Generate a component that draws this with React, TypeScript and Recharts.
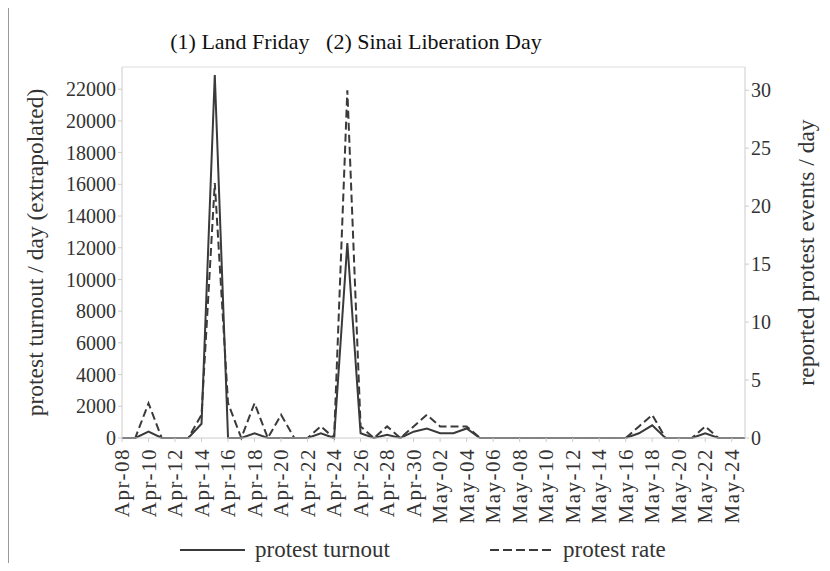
import React from "react";
import { ComposedChart, Line, XAxis, YAxis, Legend, ReferenceLine, Label } from "recharts";

const dates = [
  "Apr-08", "Apr-09", "Apr-10", "Apr-11", "Apr-12", "Apr-13", "Apr-14", "Apr-15", "Apr-16", "Apr-17",
  "Apr-18", "Apr-19", "Apr-20", "Apr-21", "Apr-22", "Apr-23", "Apr-24", "Apr-25", "Apr-26", "Apr-27",
  "Apr-28", "Apr-29", "Apr-30", "May-01", "May-02", "May-03", "May-04", "May-05", "May-06", "May-07",
  "May-08", "May-09", "May-10", "May-11", "May-12", "May-13", "May-14", "May-15", "May-16", "May-17",
  "May-18", "May-19", "May-20", "May-21", "May-22", "May-23", "May-24", "May-25",
];

// protest turnout / day (extrapolated)
const turnout = [
  0, 0, 400, 0, 0, 0, 900, 22900, 0, 0,
  300, 0, 0, 0, 0, 300, 0, 12300, 300, 0,
  200, 0, 400, 600, 300, 300, 600, 0, 0, 0,
  0, 0, 0, 0, 0, 0, 0, 0, 0, 300,
  800, 0, 0, 0, 300, 0, 0, 0,
];

// reported protest events / day
const rate = [
  0, 0, 3, 0, 0, 0, 2, 22, 3, 0,
  3, 0, 2, 0, 0, 1, 0, 30, 1, 0,
  1, 0, 1, 2, 1, 1, 1, 0, 0, 0,
  0, 0, 0, 0, 0, 0, 0, 0, 0, 1,
  2, 0, 0, 0, 1, 0, 0, 0,
];

const leftTicks = [0, 2000, 4000, 6000, 8000, 10000, 12000, 14000, 16000, 18000, 20000, 22000];
const rightTicks = [0, 5, 10, 15, 20, 25, 30];

const data = dates.map((d, i) => ({ date: d, turnout: turnout[i], rate: rate[i] }));

const FONT = '"Liberation Serif", "Times New Roman", serif';
const INK = "#333";
const LINE = "#3a3a3a";

const XTick = (props: any) => {
  const { x, y, payload } = props;
  return (
    <g transform={`translate(${x},${y})`}>
      <text
        transform="rotate(-90)"
        textAnchor="end"
        x={-4}
        dy={7}
        fill={INK}
        fontSize={21}
        letterSpacing={1.5}
        style={{ fontFamily: FONT }}
      >
        {payload.value}
      </text>
    </g>
  );
};

const LegendContent = () => (
  <svg width={830} height={40} style={{ display: "block" }}>
    <line x1={180} x2={245} y1={19} y2={19} stroke={LINE} strokeWidth={2} />
    <text x={255} y={26} fontSize={23} style={{ fontFamily: FONT }} fill={INK}>protest turnout</text>
    <line x1={490} x2={555} y1={19} y2={19} stroke={LINE} strokeWidth={2} strokeDasharray="9 4" />
    <text x={563} y={26} fontSize={23} style={{ fontFamily: FONT }} fill={INK}>protest rate</text>
  </svg>
);

const tickStyle = { fill: INK, fontSize: 20, fontFamily: FONT };

export default function App() {
  return (
    <div style={{ position: "relative", width: 830, height: 571, margin: -8, background: "#fff", fontFamily: FONT }}>
      <div
        style={{
          position: "absolute", left: 8, top: 5, width: 814, height: 566,
          borderLeft: "1px solid #999", borderTop: "1px solid #aaa", borderRight: "1px solid #ccc",
        }}
      />
      <div
        style={{
          position: "absolute", left: 0, top: 29, width: 712, textAlign: "center",
          fontFamily: FONT, fontSize: 22, color: "#111", whiteSpace: "pre",
        }}
      >
        {"(1) Land Friday   (2) Sinai Liberation Day"}
      </div>
      <ComposedChart
        width={830}
        height={571}
        data={data}
        margin={{ top: 67, right: 0, bottom: 0, left: 0 }}
        style={{ position: "absolute", left: 0, top: 0 }}
      >
        <XAxis
          dataKey="date"
          interval={1}
          height={93}
          tick={<XTick />}
          tickLine={{ stroke: "#ccc" }}
          tickSize={4}
          axisLine={{ stroke: "#ccc" }}
        />
        <YAxis
          yAxisId="left"
          width={122}
          domain={[0, 23400]}
          ticks={leftTicks}
          interval={0}
          tick={tickStyle}
          tickLine={{ stroke: "#ccc" }}
          tickSize={4}
          axisLine={{ stroke: "#ccc" }}
        >
          <Label
            value="protest turnout / day (extrapolated)"
            angle={-90}
            position="center"
            dx={-26}
            style={{ fill: INK, fontSize: 23.5, fontFamily: FONT }}
          />
        </YAxis>
        <YAxis
          yAxisId="right"
          orientation="right"
          width={85}
          domain={[0, 32]}
          ticks={rightTicks}
          interval={0}
          tick={tickStyle}
          tickLine={{ stroke: "#ccc" }}
          tickSize={4}
          axisLine={{ stroke: "#ccc" }}
        >
          <Label
            value="reported protest events / day"
            angle={-90}
            position="center"
            dx={18}
            style={{ fill: INK, fontSize: 23.5, fontFamily: FONT }}
          />
        </YAxis>
        <ReferenceLine yAxisId="left" y={23400} stroke="#ddd" />
        <Line
          yAxisId="left"
          dataKey="turnout"
          name="protest turnout"
          stroke={LINE}
          strokeWidth={2}
          dot={false}
          isAnimationActive={false}
        />
        <Line
          yAxisId="right"
          dataKey="rate"
          name="protest rate"
          stroke={LINE}
          strokeWidth={2}
          strokeDasharray="8 4"
          dot={false}
          isAnimationActive={false}
        />
        <Legend verticalAlign="bottom" content={<LegendContent />} />
      </ComposedChart>
    </div>
  );
}
